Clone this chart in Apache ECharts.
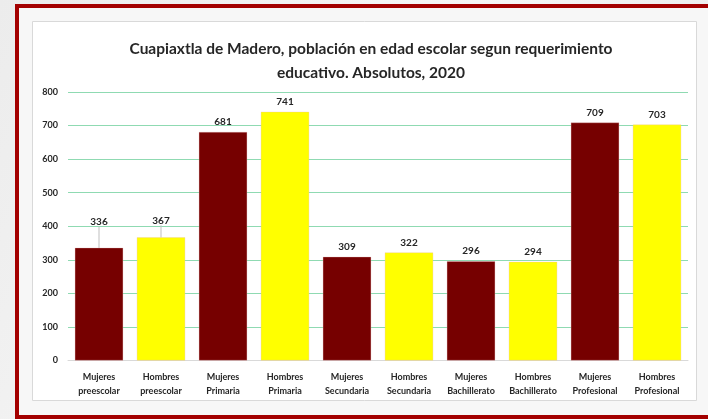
<!DOCTYPE html>
<html>
<head>
<meta charset="utf-8">
<script src="https://cdn.jsdelivr.net/npm/echarts@6/dist/echarts.min.js"></script>
<style>
html,body{margin:0;padding:0;width:708px;height:419px;overflow:hidden;}
#chart{width:708px;height:419px;}
</style>
</head>
<body>
<div id="chart"></div>
<script>
const categories = [
  'Mujeres\npreescolar','Hombres\npreescolar','Mujeres\nPrimaria','Hombres\nPrimaria',
  'Mujeres\nSecundaria','Hombres\nSecundaria','Mujeres\nBachillerato','Hombres\nBachillerato',
  'Mujeres\nProfesional','Hombres\nProfesional'
];
const values = [336, 367, 681, 741, 309, 322, 296, 294, 709, 703];
const titleText = 'Cuapiaxtla de Madero, población en edad escolar segun requerimiento\neducativo. Absolutos, 2020';

const MUJ = '#760000', HOM = '#FFFF00';
const chart = echarts.init(document.getElementById('chart'), null, {renderer:'canvas'});
const font = 'Lato, "Open Sans", sans-serif';

const seriesData = values.map((v, i) => ({
  value: v,
  itemStyle: {color: i % 2 === 0 ? MUJ : HOM},
  labelLine: {show: i < 2}
}));

chart.setOption({
  animation: false,
  backgroundColor: {
    type: 'linear', x: 0, y: 0, x2: 1, y2: 1,
    colorStops: [{offset:0, color:'#ececec'},{offset:0.5, color:'#f6f6f6'},{offset:1, color:'#e6e6e6'}]
  },
  graphic: [
    {type:'rect', z:-10, shape:{x:17, y:6, width:700, height:411},
     style:{fill:'#f7f7f7', stroke:'#a30000', lineWidth:4}},
    {type:'rect', z:-9, shape:{x:32.5, y:21.5, width:664, height:379},
     style:{fill:'#ffffff', stroke:'#d9d9d9', lineWidth:1}}
  ],
  title: {
    text: titleText,
    left: 366, top: 32, textAlign: 'center',
    textStyle: {fontFamily: font, fontWeight: 'bold', fontSize: 15.5, color:'#262626', lineHeight: 24}
  },
  grid: {left: 68, right: 20, top: 92, bottom: 58.5, containLabel: false},
  xAxis: {
    type: 'category', data: categories,
    axisLine: {show: true, lineStyle: {color: '#d9d9d9', width: 1}},
    axisTick: {show: false},
    axisLabel: {fontFamily: font, fontWeight: 'bold', fontSize: 9, color: '#262626', lineHeight: 14, margin: 10, interval: 0}
  },
  yAxis: {
    type: 'value', min: 0, max: 800, interval: 100,
    axisLine: {show: false}, axisTick: {show: false},
    axisLabel: {fontFamily: font, fontWeight: 'bold', fontSize: 9, color: '#262626', margin: 10},
    splitLine: {lineStyle: {color: '#8fdab2', width: 1}}
  },
  series: [{
    type: 'bar',
    data: seriesData,
    barCategoryGap: '22%',
    itemStyle: {borderColor: 'rgba(230,180,180,0.6)', borderWidth: 0.5},
    label: {
      show: true, position: 'top', distance: 5,
      fontFamily: font, fontWeight: 'bold', fontSize: 10, color: '#262626'
    },
    labelLine: {show: false, lineStyle: {color: '#bfbfbf', width: 1}},
    labelLayout: (p) => {
      if (p.dataIndex === 0) return {dy: -16};
      if (p.dataIndex === 1) return {dy: -7};
      return {};
    }
  }]
});
</script>
</body>
</html>
